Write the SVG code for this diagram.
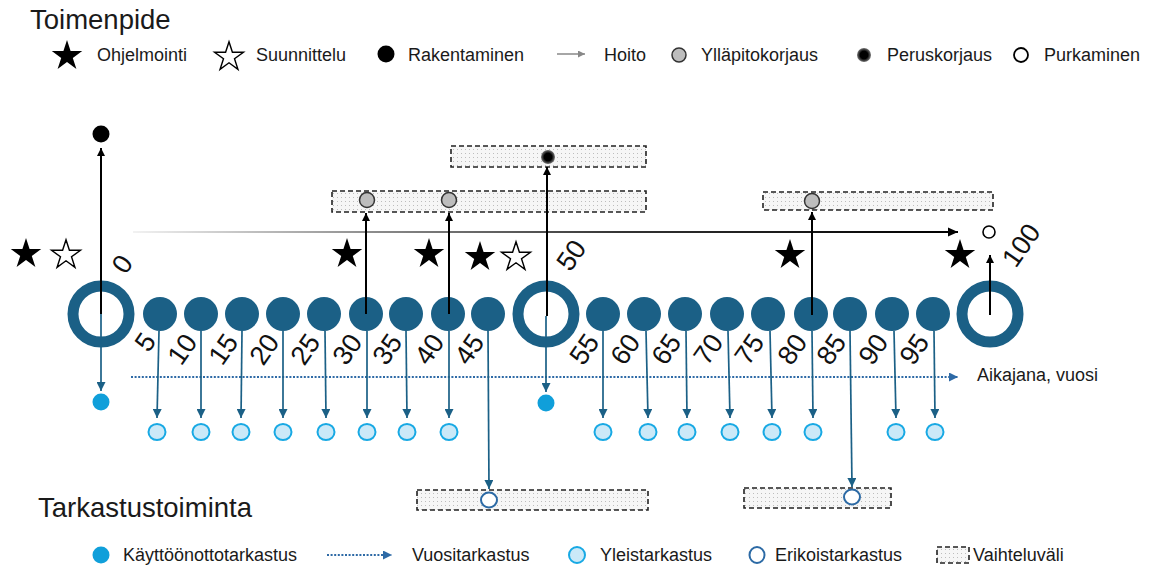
<svg xmlns="http://www.w3.org/2000/svg" width="1151" height="568" viewBox="0 0 1151 568">
<style>
text{font-family:"Liberation Sans",Arial,sans-serif;fill:#1a1a1a}
.title{font-size:27.5px}
.leg{font-size:18px}
.num{font-size:27px;fill:#111}
.yc{fill:#1b6086}
.ring{fill:none;stroke:#1b6086;stroke-width:11}
.box{fill:url(#dots);stroke:#222;stroke-width:1.6;stroke-dasharray:5 3}
.blk{stroke:#000;stroke-width:2;fill:none;marker-end:url(#ab)}
.blu{stroke:#1b6086;stroke-width:1.7;fill:none;marker-end:url(#au)}
.yle{fill:#cbe9f8;stroke:#18a9e4;stroke-width:2}
.eri{fill:#fff;stroke:#2c6aa5;stroke-width:2}
.kay{fill:#109fda}
.yp{fill:#bdbdbd;stroke:#333;stroke-width:1.5}
.dot{stroke:#2e6aa6;stroke-width:2.2;stroke-dasharray:2 1.6;fill:none}
</style>
<defs>
<pattern id="dots" width="4" height="4" patternUnits="userSpaceOnUse">
<rect width="4" height="4" fill="#f6f6f6"/>
<rect x="1" y="1" width="1" height="1" fill="#bdbdbd"/>
</pattern>
<linearGradient id="hoito" x1="133" y1="0" x2="950" y2="0" gradientUnits="userSpaceOnUse">
<stop offset="0" stop-color="#f2f2f2"/>
<stop offset="0.3" stop-color="#8a8a8a"/>
<stop offset="0.6" stop-color="#333"/>
<stop offset="1" stop-color="#000"/>
</linearGradient>
<radialGradient id="peru">
<stop offset="0.55" stop-color="#000"/>
<stop offset="1" stop-color="#777"/>
</radialGradient>
<marker id="ab" viewBox="0 0 10 10" refX="10" refY="5" markerWidth="8" markerHeight="8" markerUnits="userSpaceOnUse" orient="auto"><path d="M0,0L10,5L0,10Z" fill="#000"/></marker>
<marker id="au" viewBox="0 0 10 10" refX="10" refY="5" markerWidth="9" markerHeight="9" markerUnits="userSpaceOnUse" orient="auto"><path d="M0,0L10,5L0,10Z" fill="#1b6086"/></marker>
<marker id="ag" viewBox="0 0 10 10" refX="10" refY="5" markerWidth="7" markerHeight="7" markerUnits="userSpaceOnUse" orient="auto"><path d="M0,0L10,5L0,10Z" fill="#888"/></marker>
<marker id="ad" viewBox="0 0 10 10" refX="10" refY="5" markerWidth="9" markerHeight="9" markerUnits="userSpaceOnUse" orient="auto"><path d="M0,0L10,5L0,10Z" fill="#2e6aa6"/></marker>
<path id="star" d="M0,-16L3.59,-4.94L15.22,-4.94L5.8,1.89L9.4,12.94L0,6.1L-9.4,12.94L-5.8,1.89L-15.22,-4.94L-3.59,-4.94Z"/>
</defs>
<rect width="1151" height="568" fill="#fff"/>

<!-- top legend -->
<g id="legend-toimenpide">
<text class="title" x="30" y="29">Toimenpide</text>
<use href="#star" x="67" y="56" fill="#000"/>
<text class="leg" x="97" y="61">Ohjelmointi</text>
<use href="#star" transform="translate(229,57) scale(0.95)" fill="#fff" stroke="#000" stroke-width="1.5"/>
<text class="leg" x="256" y="61">Suunnittelu</text>
<circle cx="386" cy="54" r="8.5" fill="#000"/>
<text class="leg" x="408" y="61">Rakentaminen</text>
<line x1="557" y1="54" x2="585" y2="54" stroke="#888" stroke-width="1.5" marker-end="url(#ag)"/>
<text class="leg" x="604" y="61">Hoito</text>
<circle cx="679" cy="55" r="7" class="yp"/>
<text class="leg" x="701" y="61">Ylläpitokorjaus</text>
<circle cx="864" cy="55" r="7" fill="url(#peru)"/>
<text class="leg" x="887" y="61">Peruskorjaus</text>
<circle cx="1021" cy="55" r="7" fill="#fff" stroke="#000" stroke-width="1.8"/>
<text class="leg" x="1044" y="61">Purkaminen</text>
</g>

<!-- range boxes -->
<g id="box-peruskorjaus"><rect class="box" x="451" y="146" width="195" height="21"/><circle cx="548" cy="157" r="7" fill="url(#peru)"/></g>
<g id="box-yllapito-1"><rect class="box" x="332" y="191" width="314" height="21"/><circle cx="367" cy="200" r="7.5" class="yp"/><circle cx="449" cy="200" r="7.5" class="yp"/></g>
<g id="box-yllapito-2"><rect class="box" x="763" y="192" width="230" height="18"/><circle cx="812" cy="201" r="7.5" class="yp"/></g>
<g id="box-erikois-1"><rect class="box" x="417" y="490" width="231" height="20"/><ellipse cx="489" cy="500" rx="8" ry="7.5" class="eri"/></g>
<g id="box-erikois-2"><rect class="box" x="744" y="488" width="147" height="20"/><ellipse cx="852" cy="497" rx="8" ry="7.5" class="eri"/></g>

<!-- stars -->
<g id="stars">
<use href="#star" x="26" y="254" fill="#000"/>
<use href="#star" transform="translate(66,255) scale(0.95)" fill="#fff" stroke="#000" stroke-width="1.5"/>
<use href="#star" x="347" y="254" fill="#000"/>
<use href="#star" x="429" y="254" fill="#000"/>
<use href="#star" x="480" y="257" fill="#000"/>
<use href="#star" transform="translate(516,257) scale(0.95)" fill="#fff" stroke="#000" stroke-width="1.5"/>
<use href="#star" x="790" y="255" fill="#000"/>
<use href="#star" x="960" y="255" fill="#000"/>
</g>

<!-- year nodes -->
<g id="y0"><circle class="ring" cx="101" cy="314" r="28"/><text class="num" text-anchor="middle" dy="0.35em" transform="translate(122,264) rotate(-55)">0</text></g>
<g id="y5"><circle class="yc" cx="160" cy="314" r="17"/><text class="num" text-anchor="middle" dy="0.35em" transform="translate(145,342) rotate(-55)">5</text></g>
<g id="y10"><circle class="yc" cx="201" cy="314" r="17"/><text class="num" text-anchor="middle" dy="0.35em" transform="translate(182,349) rotate(-55)">10</text></g>
<g id="y15"><circle class="yc" cx="242" cy="314" r="17"/><text class="num" text-anchor="middle" dy="0.35em" transform="translate(223,349) rotate(-55)">15</text></g>
<g id="y20"><circle class="yc" cx="283" cy="314" r="17"/><text class="num" text-anchor="middle" dy="0.35em" transform="translate(264,349) rotate(-55)">20</text></g>
<g id="y25"><circle class="yc" cx="324" cy="314" r="17"/><text class="num" text-anchor="middle" dy="0.35em" transform="translate(305,349) rotate(-55)">25</text></g>
<g id="y30"><circle class="yc" cx="366" cy="314" r="17"/><text class="num" text-anchor="middle" dy="0.35em" transform="translate(347,349) rotate(-55)">30</text></g>
<g id="y35"><circle class="yc" cx="406" cy="314" r="17"/><text class="num" text-anchor="middle" dy="0.35em" transform="translate(387,349) rotate(-55)">35</text></g>
<g id="y40"><circle class="yc" cx="448" cy="314" r="17"/><text class="num" text-anchor="middle" dy="0.35em" transform="translate(429,349) rotate(-55)">40</text></g>
<g id="y45"><circle class="yc" cx="488" cy="314" r="17"/><text class="num" text-anchor="middle" dy="0.35em" transform="translate(469,349) rotate(-55)">45</text></g>
<g id="y50"><circle class="ring" cx="546" cy="314" r="28"/><text class="num" text-anchor="middle" dy="0.35em" transform="translate(571,255) rotate(-55)">50</text></g>
<g id="y55"><circle class="yc" cx="603" cy="314" r="17"/><text class="num" text-anchor="middle" dy="0.35em" transform="translate(584,349) rotate(-55)">55</text></g>
<g id="y60"><circle class="yc" cx="644" cy="314" r="17"/><text class="num" text-anchor="middle" dy="0.35em" transform="translate(625,349) rotate(-55)">60</text></g>
<g id="y65"><circle class="yc" cx="685" cy="314" r="17"/><text class="num" text-anchor="middle" dy="0.35em" transform="translate(666,349) rotate(-55)">65</text></g>
<g id="y70"><circle class="yc" cx="727" cy="314" r="17"/><text class="num" text-anchor="middle" dy="0.35em" transform="translate(708,349) rotate(-55)">70</text></g>
<g id="y75"><circle class="yc" cx="768" cy="314" r="17"/><text class="num" text-anchor="middle" dy="0.35em" transform="translate(749,349) rotate(-55)">75</text></g>
<g id="y80"><circle class="yc" cx="811" cy="314" r="17"/><text class="num" text-anchor="middle" dy="0.35em" transform="translate(792,349) rotate(-55)">80</text></g>
<g id="y85"><circle class="yc" cx="850" cy="314" r="17"/><text class="num" text-anchor="middle" dy="0.35em" transform="translate(831,349) rotate(-55)">85</text></g>
<g id="y90"><circle class="yc" cx="892" cy="314" r="17"/><text class="num" text-anchor="middle" dy="0.35em" transform="translate(873,349) rotate(-55)">90</text></g>
<g id="y95"><circle class="yc" cx="933" cy="314" r="17"/><text class="num" text-anchor="middle" dy="0.35em" transform="translate(914,349) rotate(-55)">95</text></g>
<g id="y100"><circle class="ring" cx="990" cy="314" r="28"/><text class="num" text-anchor="middle" dy="0.35em" transform="translate(1021,245) rotate(-55)">100</text></g>

<!-- event markers -->
<g id="rakentaminen"><circle cx="101" cy="134" r="8.5" fill="#000"/></g>
<g id="purkaminen"><circle cx="989" cy="232" r="6" fill="#fff" stroke="#000" stroke-width="1.6"/></g>
<g id="kayttoonotto-0"><circle class="kay" cx="101" cy="402" r="8.5"/></g>
<g id="kayttoonotto-50"><circle class="kay" cx="546" cy="403" r="8.5"/></g>
<g id="yleistarkastukset">
<ellipse class="yle" cx="157" cy="432" rx="8.5" ry="8"/>
<ellipse class="yle" cx="201" cy="432" rx="8.5" ry="8"/>
<ellipse class="yle" cx="241" cy="432" rx="8.5" ry="8"/>
<ellipse class="yle" cx="283" cy="432" rx="8.5" ry="8"/>
<ellipse class="yle" cx="326" cy="432" rx="8.5" ry="8"/>
<ellipse class="yle" cx="367" cy="432" rx="8.5" ry="8"/>
<ellipse class="yle" cx="407" cy="432" rx="8.5" ry="8"/>
<ellipse class="yle" cx="449" cy="432" rx="8.5" ry="8"/>
<ellipse class="yle" cx="603" cy="432" rx="8.5" ry="8"/>
<ellipse class="yle" cx="648" cy="432" rx="8.5" ry="8"/>
<ellipse class="yle" cx="687" cy="432" rx="8.5" ry="8"/>
<ellipse class="yle" cx="730" cy="432" rx="8.5" ry="8"/>
<ellipse class="yle" cx="772" cy="432" rx="8.5" ry="8"/>
<ellipse class="yle" cx="813" cy="432" rx="8.5" ry="8"/>
<ellipse class="yle" cx="896" cy="432" rx="8.5" ry="8"/>
<ellipse class="yle" cx="935" cy="432" rx="8.5" ry="8"/>
</g>
<text class="leg" x="977" y="381">Aikajana, vuosi</text>

<!-- connectors -->
<g id="connectors">
<line x1="133" y1="232" x2="958" y2="232" stroke="url(#hoito)" stroke-width="2"/>
<path d="M948,227.5L958,232L948,236.5Z" fill="#000"/>
<line class="dot" x1="131" y1="377" x2="958" y2="377" marker-end="url(#ad)"/>
<line class="blk" x1="101" y1="314" x2="101" y2="148"/>
<line class="blk" x1="366" y1="314" x2="366" y2="213"/>
<line class="blk" x1="449" y1="314" x2="449" y2="213"/>
<line class="blk" x1="547" y1="316" x2="547" y2="167"/>
<line class="blk" x1="812" y1="315" x2="812" y2="212"/>
<line class="blk" x1="990" y1="315" x2="990" y2="255"/>
<line class="blu" x1="101" y1="314" x2="101" y2="391"/>
<line class="blu" x1="546" y1="316" x2="546" y2="392"/>
<line class="blu" x1="159" y1="331" x2="157" y2="418"/>
<line class="blu" x1="201" y1="331" x2="201" y2="418"/>
<line class="blu" x1="242" y1="331" x2="241" y2="418"/>
<line class="blu" x1="283" y1="331" x2="283" y2="418"/>
<line class="blu" x1="325" y1="331" x2="326" y2="418"/>
<line class="blu" x1="367" y1="331" x2="367" y2="418"/>
<line class="blu" x1="406" y1="331" x2="407" y2="418"/>
<line class="blu" x1="449" y1="331" x2="449" y2="418"/>
<line class="blu" x1="488" y1="331" x2="489" y2="489"/>
<line class="blu" x1="603" y1="331" x2="603" y2="418"/>
<line class="blu" x1="646" y1="331" x2="648" y2="418"/>
<line class="blu" x1="686" y1="331" x2="687" y2="418"/>
<line class="blu" x1="728" y1="331" x2="730" y2="418"/>
<line class="blu" x1="770" y1="331" x2="772" y2="418"/>
<line class="blu" x1="812" y1="331" x2="813" y2="418"/>
<line class="blu" x1="850" y1="331" x2="852" y2="487"/>
<line class="blu" x1="894" y1="331" x2="896" y2="418"/>
<line class="blu" x1="934" y1="331" x2="935" y2="418"/>
</g>

<!-- bottom legend -->
<g id="legend-tarkastus">
<text class="title" x="38" y="517">Tarkastustoiminta</text>
<circle class="kay" cx="101" cy="555" r="8.5"/>
<text class="leg" x="123" y="561">Käyttöönottotarkastus</text>
<line class="dot" x1="327" y1="555" x2="392" y2="555" marker-end="url(#ad)"/>
<text class="leg" x="412" y="561">Vuositarkastus</text>
<ellipse class="yle" cx="577" cy="555" rx="8" ry="8"/>
<text class="leg" x="600" y="561">Yleistarkastus</text>
<ellipse class="eri" cx="757" cy="555" rx="7.5" ry="8"/>
<text class="leg" x="775" y="561">Erikoistarkastus</text>
<rect class="box" x="937" y="547" width="32" height="16" fill="#fff"/>
<text class="leg" x="973" y="561">Vaihteluväli</text>
</g>
</svg>
